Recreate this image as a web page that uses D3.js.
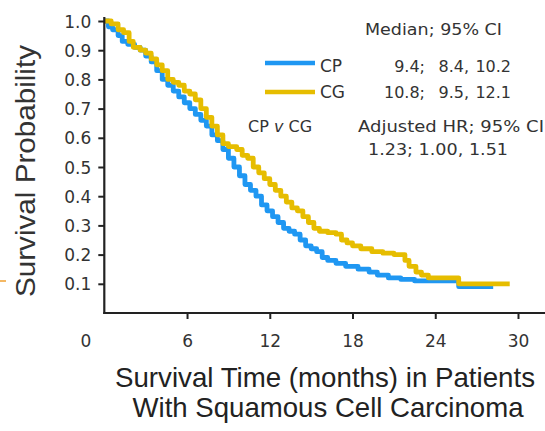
<!DOCTYPE html>
<html>
<head>
<meta charset="utf-8">
<script src="https://cdn.jsdelivr.net/npm/d3@7"></script>
<style>
  html, body { margin: 0; padding: 0; background: #fff; }
  svg { display: block; }
</style>
</head>
<body>
<svg id="chart" width="545" height="431"></svg>
<script>
// ---- Data ----
const seriesNames = ["CP", "CG"];
// CP arm: [months, survival probability]
const cpTimes = [0, 0.3, 0.6, 1.0, 1.3, 1.7, 2.2, 2.6, 3.0, 3.4, 3.8, 4.2, 4.6, 5.0, 5.4, 5.8, 6.2, 6.6, 7.0, 7.4, 7.8, 8.2, 8.6, 9.0, 9.4, 9.8, 10.2, 10.6, 11.0, 11.4, 11.8, 12.2, 12.6, 13.0, 13.4, 13.8, 14.2, 14.6, 15.0, 15.4, 15.8, 16.2, 16.8, 17.5, 18.4, 19.2, 19.8, 20.6, 21.5, 22.5, 25.7, 28.2];
const cpSurv  = [1.00, 0.98, 0.97, 0.95, 0.93, 0.92, 0.91, 0.90, 0.88, 0.86, 0.83, 0.80, 0.78, 0.76, 0.74, 0.72, 0.70, 0.68, 0.66, 0.64, 0.61, 0.59, 0.56, 0.53, 0.50, 0.47, 0.44, 0.42, 0.40, 0.37, 0.35, 0.33, 0.31, 0.29, 0.28, 0.27, 0.25, 0.23, 0.22, 0.21, 0.19, 0.18, 0.17, 0.16, 0.15, 0.14, 0.13, 0.12, 0.115, 0.11, 0.09, 0.09];
// CG arm
const cgTimes = [0, 0.5, 1.0, 1.4, 1.8, 2.1, 2.6, 3.0, 3.4, 3.8, 4.2, 4.6, 5.0, 5.4, 5.8, 6.2, 6.6, 7.0, 7.4, 7.8, 8.2, 8.6, 9.0, 9.6, 10.0, 10.4, 10.8, 11.2, 11.6, 12.0, 12.4, 12.8, 13.2, 13.6, 14.0, 14.4, 14.8, 15.2, 15.6, 16.2, 16.8, 17.2, 17.6, 18.0, 18.6, 19.4, 20.2, 21.0, 21.8, 22.1, 22.6, 23.0, 23.5, 25.7, 29.4];
const cgSurv  = [1.00, 0.99, 0.97, 0.96, 0.93, 0.91, 0.90, 0.89, 0.87, 0.85, 0.83, 0.80, 0.79, 0.78, 0.76, 0.75, 0.73, 0.70, 0.67, 0.64, 0.61, 0.58, 0.57, 0.56, 0.54, 0.53, 0.50, 0.48, 0.46, 0.44, 0.42, 0.40, 0.38, 0.36, 0.35, 0.33, 0.31, 0.29, 0.28, 0.275, 0.27, 0.25, 0.24, 0.23, 0.22, 0.21, 0.205, 0.20, 0.18, 0.16, 0.14, 0.13, 0.12, 0.10, 0.10];

const xTickValues = [0, 6, 12, 18, 24, 30];
const yTickValues = [0.1, 0.2, 0.3, 0.4, 0.5, 0.6, 0.7, 0.8, 0.9, 1.0];

const legendHeader = "Median; 95% CI";
const medianValues = [["9.4;", "8.4,", "10.2"], ["10.8;", "9.5,", "12.1"]];
const comparisonLabel = ["CP ", "v", " CG"];
const hrHeader = "Adjusted HR; 95% CI";
const hrValues = "1.23; 1.00, 1.51";

const xTitle = ["Survival Time (months) in Patients", "With Squamous Cell Carcinoma"];
const yTitle = "Survival Probability";

// ---- Drawing ----
const colors = { CP: "#1f97f2", CG: "#e6bd00" };
const textColor = "#333";
const svg = d3.select("#chart");

const x = d3.scaleLinear().domain([0, 30]).range([104.3, 518]);
const y = d3.scaleLinear().domain([0, 1]).range([313, 21]);

// Curves
const series = [
  { name: "CP", pts: cpTimes.map((t, i) => [t, cpSurv[i]]) },
  { name: "CG", pts: cgTimes.map((t, i) => [t, cgSurv[i]]) }
];
const line = d3.line().x(d => x(d[0])).y(d => y(d[1])).curve(d3.curveStepAfter);
svg.append("g").selectAll("path").data(series).join("path")
  .attr("d", d => line(d.pts))
  .attr("fill", "none")
  .attr("stroke", d => colors[d.name])
  .attr("stroke-width", 4.8)
  .attr("stroke-linejoin", "round")
  .attr("stroke-linecap", "butt");

// Y axis
const yAxis = d3.axisLeft(y).tickValues(yTickValues).tickSize(6).tickPadding(7).tickFormat(d3.format(".1f"));
const gy = svg.append("g").attr("transform", `translate(${x(0)},0)`).call(yAxis);
gy.select(".domain").remove();
gy.selectAll(".tick line").attr("stroke", "#222").attr("stroke-width", 2);
gy.selectAll(".tick text").attr("font-family", "DejaVu Sans, sans-serif").attr("font-size", 17).attr("fill", textColor).attr("dy", "0.36em");

// X axis
const xAxis = d3.axisBottom(x).tickValues(xTickValues).tickSize(6).tickPadding(16);
const gx = svg.append("g").attr("transform", `translate(0,${y(0)})`).call(xAxis);
gx.select(".domain").remove();
gx.selectAll(".tick line").attr("stroke", "#222").attr("stroke-width", 2)
  .attr("display", d => d === 0 ? "none" : null);
gx.selectAll(".tick text").attr("font-family", "DejaVu Sans, sans-serif").attr("font-size", 17).attr("fill", textColor)
  .attr("x", d => d === 0 ? -19 : 0);

// Axis lines
svg.append("line").attr("x1", x(0)).attr("x2", x(0)).attr("y1", 17).attr("y2", y(0) + 1)
  .attr("stroke", "#222").attr("stroke-width", 2.2);
svg.append("line").attr("x1", x(0) - 1).attr("x2", 545).attr("y1", y(0)).attr("y2", y(0))
  .attr("stroke", "#222").attr("stroke-width", 2.2);

// Small orange mark at left edge
svg.append("line").attr("x1", 0).attr("x2", 6).attr("y1", 281).attr("y2", 281)
  .attr("stroke", "#f0a030").attr("stroke-width", 1.5);

// Axis titles
const titleFont = "Liberation Sans Narrow, Liberation Sans, Arial, sans-serif";
svg.append("text").attr("x", 325).attr("y", 387).attr("text-anchor", "middle")
  .attr("font-family", titleFont).attr("font-size", 28).attr("fill", "#222")
  .attr("textLength", 420).attr("lengthAdjust", "spacingAndGlyphs").text(xTitle[0]);
svg.append("text").attr("x", 328).attr("y", 417).attr("text-anchor", "middle")
  .attr("font-family", titleFont).attr("font-size", 28).attr("fill", "#222")
  .attr("textLength", 391).attr("lengthAdjust", "spacingAndGlyphs").text(xTitle[1]);
svg.append("text").attr("transform", "translate(35,171) rotate(-90)").attr("text-anchor", "middle")
  .attr("font-family", titleFont).attr("font-size", 28).attr("fill", "#333")
  .attr("textLength", 252).attr("lengthAdjust", "spacingAndGlyphs").text(yTitle);

// Legend
const lf = "DejaVu Sans, sans-serif";
const lg = svg.append("g").attr("font-family", lf).attr("font-size", 15).attr("fill", textColor);
lg.append("text").attr("x", 365).attr("y", 35).attr("textLength", 137).attr("lengthAdjust", "spacingAndGlyphs").text(legendHeader);
const rowY = [72, 98];
const lineY = [63, 92];
const colEnds = [425, 469, 511];
seriesNames.forEach((name, i) => {
  lg.append("line").attr("x1", 265).attr("x2", 315).attr("y1", lineY[i]).attr("y2", lineY[i])
    .attr("stroke", colors[name]).attr("stroke-width", 4.5);
  lg.append("text").attr("x", 320).attr("y", rowY[i]).attr("font-size", 17).text(name);
  medianValues[i].forEach((v, j) => {
    lg.append("text").attr("x", colEnds[j]).attr("y", rowY[i]).attr("text-anchor", "end").attr("font-size", 16).text(v);
  });
});
const cmp = lg.append("text").attr("x", 248).attr("y", 132).attr("font-size", 16);
cmp.append("tspan").text(comparisonLabel[0]);
cmp.append("tspan").attr("font-style", "italic").text(comparisonLabel[1]);
cmp.append("tspan").text(comparisonLabel[2]);
lg.append("text").attr("x", 358).attr("y", 132).attr("font-size", 16).attr("textLength", 186).attr("lengthAdjust", "spacingAndGlyphs").text(hrHeader);
lg.append("text").attr("x", 368).attr("y", 155).attr("font-size", 16).attr("textLength", 140).attr("lengthAdjust", "spacingAndGlyphs").text(hrValues);
</script>
</body>
</html>
